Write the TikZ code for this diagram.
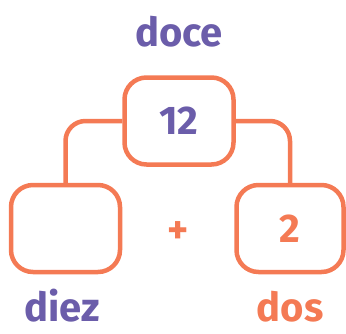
\documentclass[tikz,border=0pt]{standalone}
\usepackage{fontspec}
\setmainfont{Fira Sans}
\usetikzlibrary{positioning}
\definecolor{boxOrange}{HTML}{F47A54}
\definecolor{textPurple}{HTML}{6B5DAA}
\tikzset{
  numbox/.style={
    rectangle, rounded corners=22pt, draw=boxOrange, line width=4.5pt,
    minimum width=109pt, minimum height=87pt, inner sep=0pt,
    font=\fontsize{40}{42}\selectfont\bfseries, text=textPurple,
  },
  link/.style={draw=boxOrange, line width=4.5pt, rounded corners=20pt},
  word/.style={font=\fontsize{40}{42}\selectfont\bfseries, inner sep=0pt, anchor=base},
}
\begin{document}
\begin{tikzpicture}[x=1pt, y=-1pt]
  \useasboundingbox (0,0) rectangle (346,333);

  % Whole
  \node[word, text=textPurple] (wdoce) at (179, 46) {doce};
  \node[numbox] (whole) at (179, 121) {12};

  % Parts
  \node[numbox] (tens) at (65.5, 228.5) {};
  \node[numbox, minimum width=107pt, text=boxOrange] (ones) at (290, 228.5) {2};
  \node[word, text=boxOrange, anchor=center] (plus) at (178, 233) {+};

  \draw[link] (whole.west) -| (tens.north);
  \draw[link] (whole.east) -| (ones.north);

  % Labels
  \node[word, text=textPurple] (wdiez) at (62, 321) {diez};
  \node[word, text=boxOrange] (wdos) at (290, 321) {dos};

\end{tikzpicture}
\end{document}
